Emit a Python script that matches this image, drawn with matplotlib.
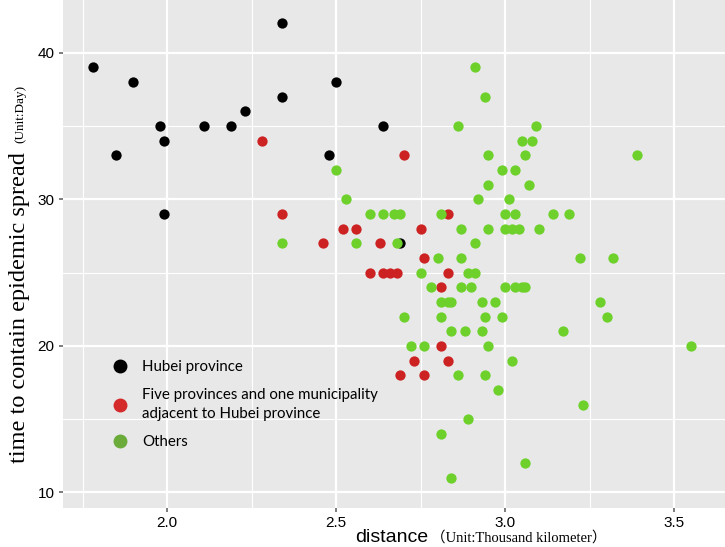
import matplotlib.pyplot as plt
from matplotlib.lines import Line2D
from matplotlib.ticker import MultipleLocator

# distance (thousand km) and days
hubei_x = [1.78, 1.90, 2.34, 2.34, 2.23, 1.98, 2.11, 2.19, 1.99, 1.85, 1.99, 2.50, 2.64, 2.48, 2.69]
hubei_y = [39, 38, 42, 37, 36, 35, 35, 35, 34, 33, 29, 38, 35, 33, 27]

adjacent_x = [2.28, 2.34, 2.70, 2.52, 2.56, 2.75, 2.83, 2.46, 2.63, 2.76, 2.60,
              2.64, 2.66, 2.68, 2.83, 2.81, 2.81, 2.73, 2.83, 2.69, 2.76]
adjacent_y = [34, 29, 33, 28, 28, 28, 29, 27, 27, 26, 25,
              25, 25, 25, 25, 24, 20, 19, 19, 18, 18]

others_x = [2.34, 2.50, 2.53, 2.60, 2.64, 2.67, 2.69, 2.81, 2.56, 2.68, 2.86, 2.92,
            2.87, 2.91, 2.80, 2.87, 2.75, 2.89, 2.91, 2.78, 2.87, 2.90, 2.81, 2.83,
            2.84, 2.93, 2.70, 2.81, 2.84, 2.88, 2.93, 2.72, 2.76, 2.86,
            2.91, 2.94, 3.09, 3.05, 3.08, 2.95, 3.06, 3.39, 2.99, 3.03, 2.95, 3.07,
            3.01, 3.00, 3.03, 3.14, 3.19, 2.95, 3.00, 3.02, 3.04, 3.10, 3.22, 3.32,
            3.00, 3.03, 3.05, 3.06, 2.97, 3.28, 2.94, 2.99, 3.30, 3.17, 2.95, 3.02,
            2.94, 2.98, 3.23, 2.89, 2.81, 3.06, 2.84, 3.55]
others_y = [27, 32, 30, 29, 29, 29, 29, 29, 27, 27, 35, 30,
            28, 27, 26, 26, 25, 25, 25, 24, 24, 24, 23, 23,
            23, 23, 22, 22, 21, 21, 21, 20, 20, 18,
            39, 37, 35, 34, 34, 33, 33, 33, 32, 32, 31, 31,
            30, 29, 29, 29, 29, 28, 28, 28, 28, 28, 26, 26,
            24, 24, 24, 24, 23, 23, 22, 22, 22, 21, 20, 19,
            18, 17, 16, 15, 14, 12, 11, 20]

legend_labels = ["Hubei province",
                 "Five provinces and one municipality\nadjacent to Hubei province",
                 "Others"]

fig = plt.figure(figsize=(7.25, 5.47), dpi=100)
ax = fig.add_axes([0.0869, 0.0713, 0.913, 0.9287])
ax.set_facecolor("#e8e8e8")

ax.scatter(hubei_x, hubei_y, s=55, color="black", linewidths=0, zorder=3)
ax.scatter(adjacent_x, adjacent_y, s=55, color="#cc2222", linewidths=0, zorder=3)
ax.scatter(others_x, others_y, s=55, color="#6dd02b", linewidths=0, zorder=3)

ax.set_xlim(1.692, 3.65)
ax.set_ylim(8.94, 43.6)
ax.xaxis.set_major_locator(MultipleLocator(0.5))
ax.xaxis.set_minor_locator(MultipleLocator(0.25))
ax.yaxis.set_major_locator(MultipleLocator(10))
ax.yaxis.set_minor_locator(MultipleLocator(5))
ax.grid(which="major", color="white", linewidth=1.6)
ax.grid(which="minor", color="white", linewidth=0.8)
ax.set_axisbelow(True)
for s in ax.spines.values():
    s.set_visible(False)
ax.tick_params(which="major", length=3, width=1.2, color="#666666", labelsize=11, pad=3)
ax.tick_params(which="minor", length=0)
for lab in ax.get_xticklabels() + ax.get_yticklabels():
    lab.set_family("Liberation Sans")

# axis titles, built from two pieces like the reference
fig.text(355 / 725, 1 - 537 / 547, "distance", fontsize=14, family="Liberation Sans",
         ha="left", va="center")
fig.text(431 / 725, 1 - 538 / 547, "（Unit:Thousand kilometer）", fontsize=10.5,
         family=["Liberation Serif", "Noto Sans CJK SC"], ha="left", va="center")
fig.text(20 / 725, 1 - 152 / 547, "time to contain epidemic spread", fontsize=17.5,
         family="Liberation Serif", rotation=90, rotation_mode="anchor",
         ha="right", va="center")
fig.text(20 / 725, 1 - 143 / 547, "(Unit:Day)", fontsize=9.5,
         family="Liberation Serif", rotation=90, rotation_mode="anchor",
         ha="left", va="center")

handles = [Line2D([], [], marker="o", linestyle="", markersize=9, color=c)
           for c in ["black", "#d42a2a", "#6aab3a"]]
leg = ax.legend(handles, legend_labels, loc="upper left", bbox_to_anchor=(0.043, 0.318),
                frameon=False, prop={"family": "Lato", "size": 10.8}, handletextpad=0.5,
                labelspacing=0.95)
leg.get_texts()[1].set_linespacing(1.45)

plt.savefig("out.png")
